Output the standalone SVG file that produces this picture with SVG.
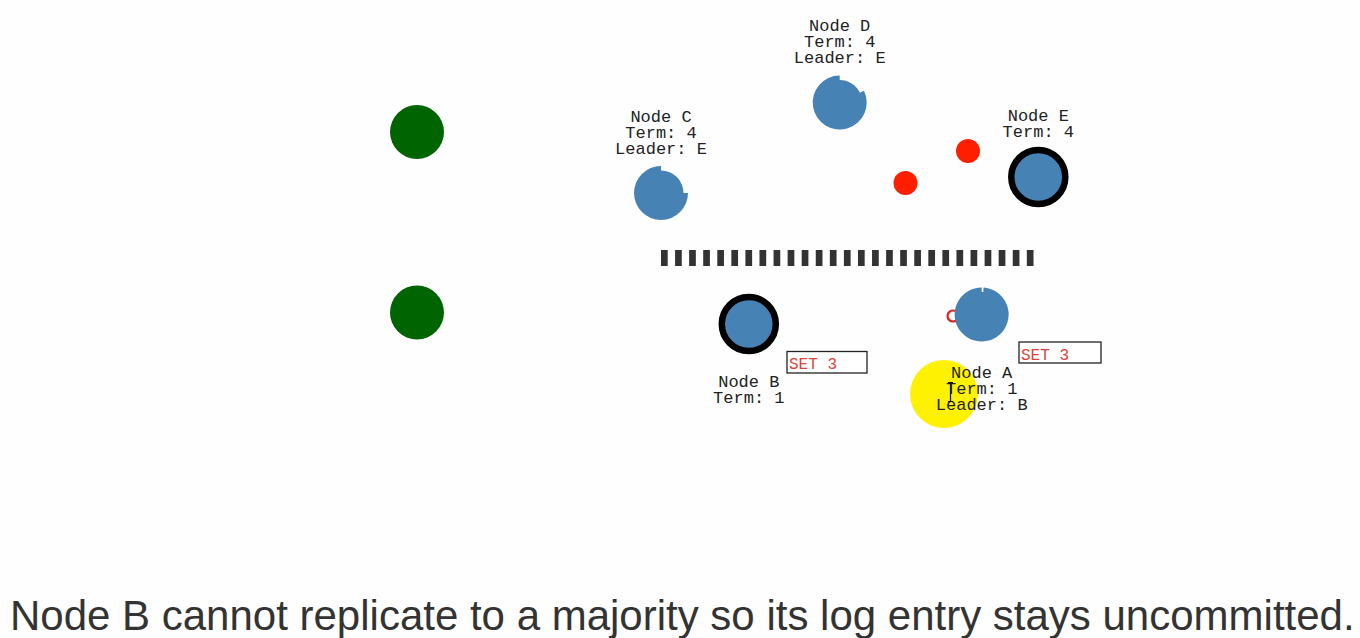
<svg xmlns="http://www.w3.org/2000/svg" width="1360" height="638" viewBox="0 0 1360 638">
<style>
.bg{fill:#fefefe}
.lbl{font-family:"Liberation Mono","Courier New",monospace;font-size:17px;fill:#222;text-anchor:middle}
.set{font-family:"Liberation Mono","Courier New",monospace;font-size:16px;fill:#d9433a}
.setbox{fill:#fff;stroke:#222;stroke-width:1.3}
.core{fill:#4682b4}
.lead{fill:#4682b4;stroke:#000;stroke-width:6.5}
.green{fill:#006400}
.msg{fill:#ff1f00}
.cap{font-family:"Liberation Sans",Arial,sans-serif;font-size:42px;fill:#333}
</style>
<rect class="bg" x="0" y="0" width="1360" height="638"/>
<g id="partition">
<line x1="661" y1="258" x2="1034" y2="258" stroke="#333" stroke-width="16" stroke-dasharray="6.7 7.37"/>
</g>
<g id="clients">
<circle class="green" cx="417" cy="132" r="27"/>
<circle class="green" cx="417" cy="312.5" r="27"/>
</g>
<g id="connectors">
<circle class="msg" cx="905.5" cy="183" r="12"/>
<circle class="msg" cx="968" cy="151" r="12"/>
<circle cx="953" cy="316" r="5.5" fill="none" stroke="#e02020" stroke-width="2.2"/>
</g>
<g id="cursor-highlight">
<circle cx="944" cy="394" r="34" fill="#fff200"/>
</g>
<g id="node-c">
<path class="core" d="M661 170.5A22.5 22.5 0 0 1 683.5 193L688 193A27 27 0 1 1 661 166Z"/>
<text class="lbl" x="661" y="122">Node C</text>
<text class="lbl" x="661" y="138">Term: 4</text>
<text class="lbl" x="661" y="154">Leader: E</text>
</g>
<g id="node-d">
<path class="core" d="M839.7 80A22.5 22.5 0 0 1 859.92 92.64L863.97 90.66A27 27 0 1 1 839.7 75.5Z"/>
<text class="lbl" x="839.7" y="31">Node D</text>
<text class="lbl" x="839.7" y="47">Term: 4</text>
<text class="lbl" x="839.7" y="63">Leader: E</text>
</g>
<g id="node-e">
<circle class="lead" cx="1038.3" cy="177" r="27"/>
<text class="lbl" x="1038.3" y="121">Node E</text>
<text class="lbl" x="1038.3" y="137">Term: 4</text>
</g>
<g id="node-b">
<circle class="lead" cx="748.8" cy="324" r="27"/>
<rect class="setbox" x="787" y="351.5" width="80" height="21.5"/>
<text class="set" x="789" y="368.5">SET 3</text>
<text class="lbl" x="748.8" y="387">Node B</text>
<text class="lbl" x="748.8" y="403">Term: 1</text>
</g>
<g id="node-a">
<path class="core" d="M981.7 292A22.5 22.5 0 0 1 983.27 292.05L983.58 287.57A27 27 0 1 1 981.7 287.5Z"/>
<rect class="setbox" x="1019" y="342" width="82" height="21"/>
<text class="set" x="1021" y="359.5">SET 3</text>
<text class="lbl" x="981.7" y="378">Node A</text>
<text class="lbl" x="981.7" y="394">Term: 1</text>
<text class="lbl" x="981.7" y="410">Leader: B</text>
</g>
<g id="mouse-cursor">
<path d="M948 382.5h5M950.5 382.5v19M948 401.5h5" fill="none" stroke="#111" stroke-width="1.2"/>
</g>
<g id="caption">
<text class="cap" x="10" y="630">Node B cannot replicate to a majority so its log entry stays uncommitted.</text>
</g>
</svg>
